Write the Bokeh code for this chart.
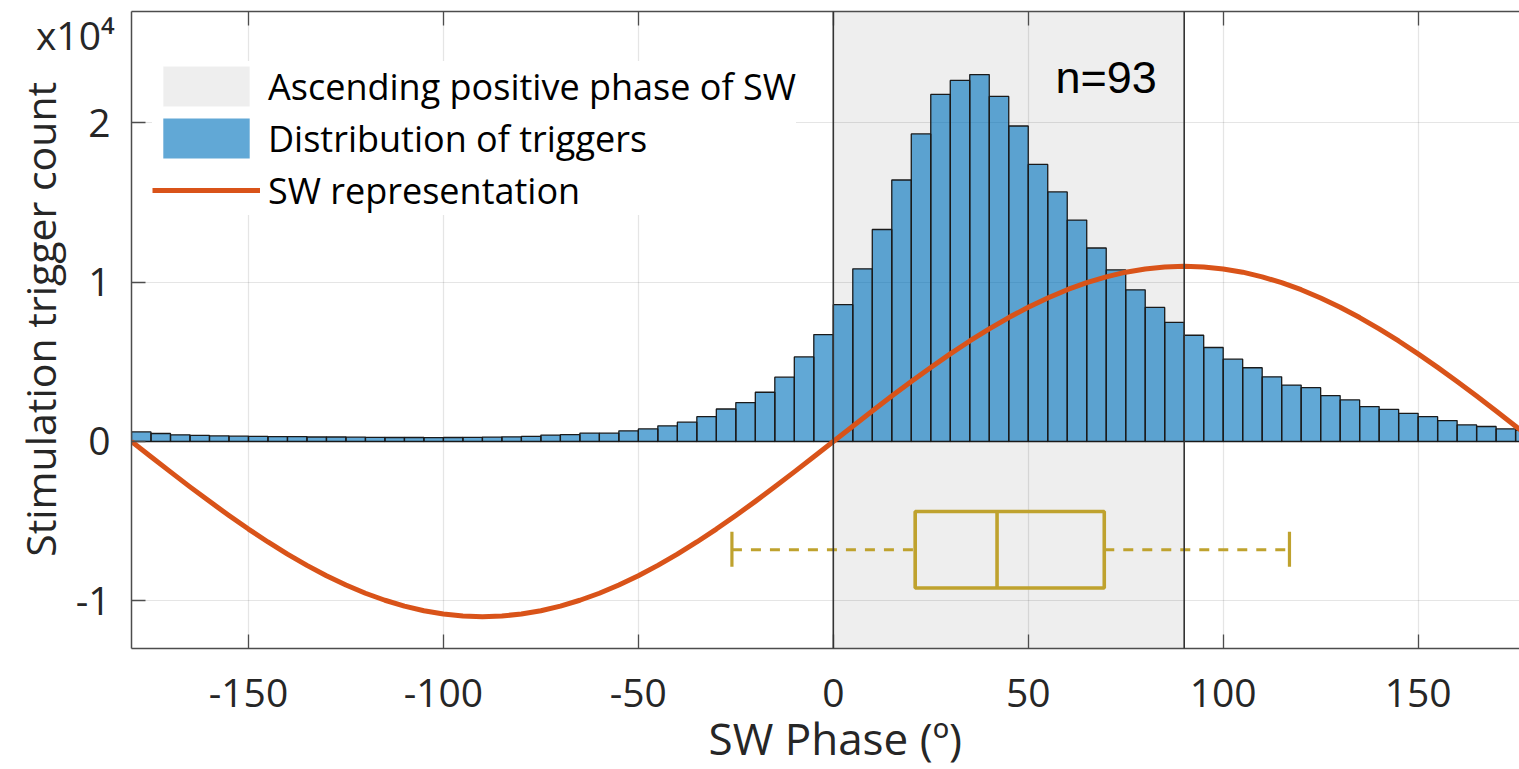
from bokeh.plotting import figure
from bokeh.models import (Range1d, FixedTicker, LinearAxis, Span, Label, Legend,
                          LegendItem, CustomJSTickFormatter, ColumnDataSource)
from bokeh.embed import file_html
from bokeh.resources import INLINE

# ---- data -------------------------------------------------------------
# 5-degree phase bins (left edges) and trigger counts per bin
bin_left = list(range(-180, 180, 5))
bin_width = 5
trigger_counts = [
    600, 500, 420, 380, 350, 330, 320, 300, 300, 280, 280, 270,
    260, 250, 250, 240, 250, 260, 270, 290, 320, 400, 430, 520,
    520, 670, 790, 980, 1210, 1560, 2040, 2440, 3090, 4040, 5310, 6710,
    8590, 10840, 13310, 16420, 19310, 21790, 22670, 23040, 21670, 19810, 17400, 15670,
    13900, 12150, 10770, 9520, 8420, 7480, 6670, 5900, 5170, 4630, 4060, 3540,
    3380, 2880, 2610, 2190, 2020, 1770, 1560, 1310, 1040, 940, 790, 700,
]

# slow-wave reference curve, sampled every 5 degrees
sw_phase = list(range(-180, 181, 5))
sw_value = [
    0, -960, -1910, -2850, -3760, -4650, -5500, -6310, -7070, -7780,
    -8430, -9010, -9530, -9970, -10340, -10630, -10830, -10960, -11000,
    -10960, -10830, -10630, -10340, -9970, -9530, -9010, -8430, -7780,
    -7070, -6310, -5500, -4650, -3760, -2850, -1910, -960,
    0, 960, 1910, 2850, 3760, 4650, 5500, 6310, 7070, 7780,
    8430, 9010, 9530, 9970, 10340, 10630, 10830, 10960, 11000,
    10960, 10830, 10630, 10340, 9970, 9530, 9010, 8430, 7780,
    7070, 6310, 5500, 4650, 3760, 2850, 1910, 960, 0,
]

# ascending positive phase window (degrees)
phase_start = 0
phase_end = 90

# box plot summary of trigger phases (degrees)
whisker_low = -26
box_q1 = 21
box_median = 42
box_q3 = 69.5
whisker_high = 117
n_waves = 93

x_ticks = [-150, -100, -50, 0, 50, 100, 150]
y_ticks = [-10000, 0, 10000, 20000]

# ---- styling ----------------------------------------------------------
FONT = "Open Sans"
AX_COLOR = "#4D4D4D"
TXT_COLOR = "#262626"
BOX_COLOR = "#BFA22E"
SW_COLOR = "#D95319"
BAR_COLOR = "#0072BD"

# vertical placement of the box plot (counts axis)
box_y = -6800
box_top = -4400
box_bottom = -9200
cap_top = -5670
cap_bottom = -7870

p = figure(width=1519, height=769,
           x_range=Range1d(-180, 176), y_range=Range1d(-13000, 27000),
           output_backend="svg", toolbar_location=None,
           min_border_left=131, min_border_right=0,
           min_border_top=11, min_border_bottom=120)
p.outline_line_color = None
p.background_fill_color = "white"
p.border_fill_color = "white"

xaxis = p.below[0]
yaxis = p.left[0]

# grid
for g in (p.xgrid, p.ygrid):
    g.grid_line_color = "#262626"
    g.grid_line_alpha = 0.12
    g.grid_line_width = 1.2
p.xgrid.ticker = FixedTicker(ticks=x_ticks)
p.ygrid.ticker = FixedTicker(ticks=y_ticks)

# shaded phase window
shade = p.quad(left=[phase_start], right=[phase_end], bottom=[-13000], top=[27000],
               fill_color="black", fill_alpha=0.065, line_color=None)

# histogram: filled bars plus their outlines
bars = ColumnDataSource(dict(
    left=bin_left,
    right=[b + bin_width for b in bin_left],
    top=trigger_counts,
))
bar_fill = p.quad(left="left", right="right", bottom=0, top="top", source=bars,
                  fill_color=BAR_COLOR, fill_alpha=0.62, line_color=None)
p.quad(left="left", right="right", bottom=0, top="top", source=bars,
       fill_alpha=0, line_color="#1A1A1A", line_width=1.3)

# window borders
for loc in (phase_start, phase_end):
    p.add_layout(Span(location=loc, dimension="height", line_color="#333333",
                      line_width=1.6))

# slow-wave curve
sw = p.line(sw_phase, sw_value, line_color=SW_COLOR, line_width=5, line_join="round")

# box plot
p.segment(x0=[whisker_low, box_q3], y0=[box_y, box_y],
          x1=[box_q1, whisker_high], y1=[box_y, box_y],
          line_color=BOX_COLOR, line_width=3.2, line_dash="10 9")
p.segment(x0=[whisker_low, whisker_high], y0=[cap_bottom, cap_bottom],
          x1=[whisker_low, whisker_high], y1=[cap_top, cap_top],
          line_color=BOX_COLOR, line_width=3.2)
p.quad(left=[box_q1], right=[box_q3], bottom=[box_bottom], top=[box_top],
       fill_color=None, line_color=BOX_COLOR, line_width=3.6)
p.segment(x0=[box_median], y0=[box_bottom], x1=[box_median], y1=[box_top],
          line_color=BOX_COLOR, line_width=3.6)

# axes
xaxis.ticker = FixedTicker(ticks=x_ticks)
yaxis.ticker = FixedTicker(ticks=y_ticks)
xaxis.formatter = CustomJSTickFormatter(code="return tick.toString();")
yaxis.formatter = CustomJSTickFormatter(code="return (tick / 10000).toString();")
yaxis.axis_label = "\u00a0\u00a0Stimulation trigger count"

# top frame edge with inward ticks only
top_axis = LinearAxis(ticker=FixedTicker(ticks=x_ticks),
                      formatter=CustomJSTickFormatter(code="return '';"))
p.add_layout(top_axis, "above")

for ax in (xaxis, yaxis, top_axis):
    ax.axis_line_color = AX_COLOR
    ax.axis_line_width = 1.5
    ax.major_tick_line_color = AX_COLOR
    ax.major_tick_line_width = 1.3
    ax.major_tick_in = 14
    ax.major_tick_out = 0
    ax.minor_tick_line_color = None
    ax.major_label_text_font = FONT
    ax.major_label_text_color = TXT_COLOR
    ax.axis_label_text_font = FONT
    ax.axis_label_text_font_style = "normal"
    ax.axis_label_text_color = TXT_COLOR

top_axis.major_label_text_font_size = "0px"
top_axis.major_label_standoff = 0

xaxis.major_label_text_font_size = "39px"
xaxis.major_label_standoff = 30
yaxis.major_label_text_font_size = "39px"
yaxis.major_label_standoff = 21
yaxis.axis_label_text_font_size = "41px"
yaxis.axis_label_standoff = 5

# exponent of the count axis, carried by an outer axis without line or ticks
exp_axis = LinearAxis(ticker=FixedTicker(ticks=[25558]),
                      formatter=CustomJSTickFormatter(code="return 'x10\u2074';"))
exp_axis.axis_line_color = None
exp_axis.major_tick_line_color = None
exp_axis.minor_tick_line_color = None
exp_axis.major_tick_in = 0
exp_axis.major_tick_out = 0
exp_axis.major_label_standoff = -106
exp_axis.major_label_text_font = FONT
exp_axis.major_label_text_font_size = "39px"
exp_axis.major_label_text_color = TXT_COLOR
p.add_layout(exp_axis, "left")

# horizontal axis title, placed in the lower side panel
p.add_layout(Label(x=0, y=-18640, x_offset=2, text="SW Phase (º)",
                   text_font=FONT, text_font_size="44px", text_color=TXT_COLOR,
                   text_align="center", text_baseline="alphabetic"), "below")

# sample size
p.add_layout(Label(x=57, y=22860, text=f"n={n_waves}",
                   text_font="Liberation Sans", text_font_size="45px",
                   text_color="black", text_baseline="alphabetic"))

legend = Legend(items=[
    LegendItem(label="Ascending positive phase of SW", renderers=[shade]),
    LegendItem(label="Distribution of triggers", renderers=[bar_fill]),
    LegendItem(label="SW representation", renderers=[sw]),
], location=(21, 433))
legend.label_text_font = FONT
legend.label_text_font_size = "36px"
legend.label_text_color = "black"
legend.glyph_width = 108
legend.glyph_height = 50
legend.label_standoff = 8
legend.spacing = 2
legend.padding = 22
legend.margin = 0
legend.border_line_color = None
legend.background_fill_color = "white"
legend.background_fill_alpha = 1.0
p.add_layout(legend, "center")

open("out.html", "w").write(file_html(p, INLINE))
